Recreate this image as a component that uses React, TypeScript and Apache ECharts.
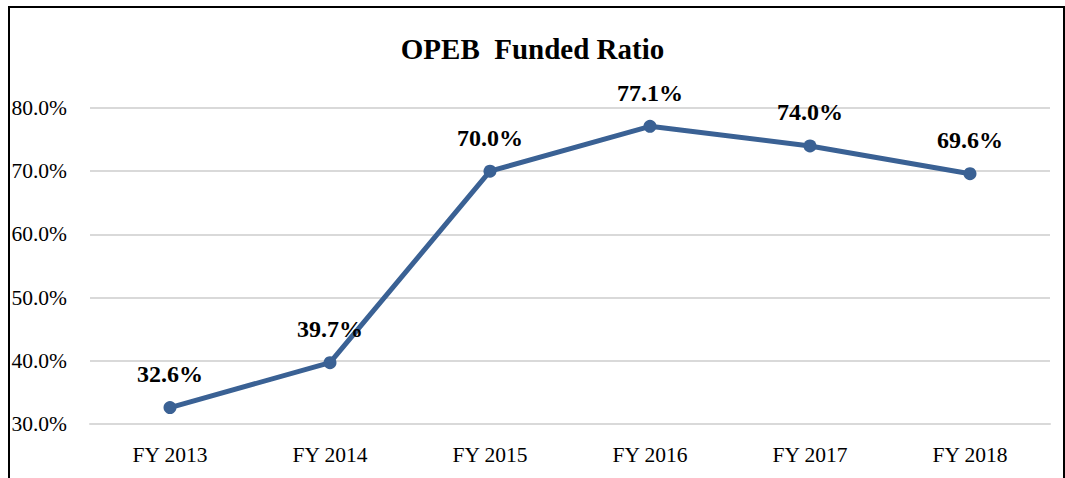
import React, { useEffect, useRef } from "react";
import * as echarts from "echarts";

const categories = ["FY 2013", "FY 2014", "FY 2015", "FY 2016", "FY 2017", "FY 2018"];
const fundedRatio = [32.6, 39.7, 70.0, 77.1, 74.0, 69.6];
const yTicks = { min: 30, max: 80, interval: 10 };

const FONT = "'Liberation Serif', 'DejaVu Serif', serif";

export default function App() {
  const ref = useRef<HTMLDivElement>(null);
  useEffect(() => {
    if (!ref.current) return;
    const chart = echarts.init(ref.current, null, { renderer: "svg" });
    chart.setOption({
      animation: false,
      backgroundColor: "#ffffff",
      title: {
        text: "OPEB  Funded Ratio",
        left: "center",
        top: 29,
        textStyle: { fontFamily: FONT, fontWeight: "bold", fontSize: 29, color: "#000" },
      },
      grid: { left: 90, right: 15, top: 108, bottom: 54 },
      xAxis: {
        type: "category",
        data: categories,
        boundaryGap: true,
        axisLine: { show: true, lineStyle: { color: "#d9d9d9", width: 2 } },
        axisTick: { show: false },
        axisLabel: { fontFamily: FONT, fontSize: 21.5, color: "#000", margin: 20 },
      },
      yAxis: {
        type: "value",
        min: yTicks.min,
        max: yTicks.max,
        interval: yTicks.interval,
        axisLine: { show: false },
        axisTick: { show: false },
        axisLabel: {
          fontFamily: FONT,
          fontSize: 21.5,
          color: "#000",
          margin: 23,
          formatter: (v: number) => v.toFixed(1) + "%",
        },
        splitLine: { lineStyle: { color: "#d9d9d9", width: 2 } },
      },
      series: [
        {
          type: "line",
          data: fundedRatio,
          lineStyle: { color: "#3a6194", width: 5 },
          itemStyle: { color: "#3a6194" },
          symbol: "circle",
          symbolSize: 13,
          label: {
            show: true,
            position: "top",
            distance: 15,
            fontFamily: FONT,
            fontWeight: "bold",
            fontSize: 24,
            color: "#000",
            formatter: (p: any) => Number(p.value).toFixed(1) + "%",
          },
        },
      ],
    });
    return () => chart.dispose();
  }, []);
  return (
    <div style={{ position: "absolute", left: 0, top: 0, width: 1065, height: 478, overflow: "hidden" }}>
      <div ref={ref} style={{ position: "absolute", left: 0, top: 0, width: 1065, height: 478 }} />
      <div
        style={{
          position: "absolute",
          left: 8,
          top: 6,
          width: 1053,
          height: 480,
          borderTop: "2px solid #000",
          borderLeft: "2px solid #000",
          borderRight: "2px solid #000",
          pointerEvents: "none",
        }}
      />
    </div>
  );
}
